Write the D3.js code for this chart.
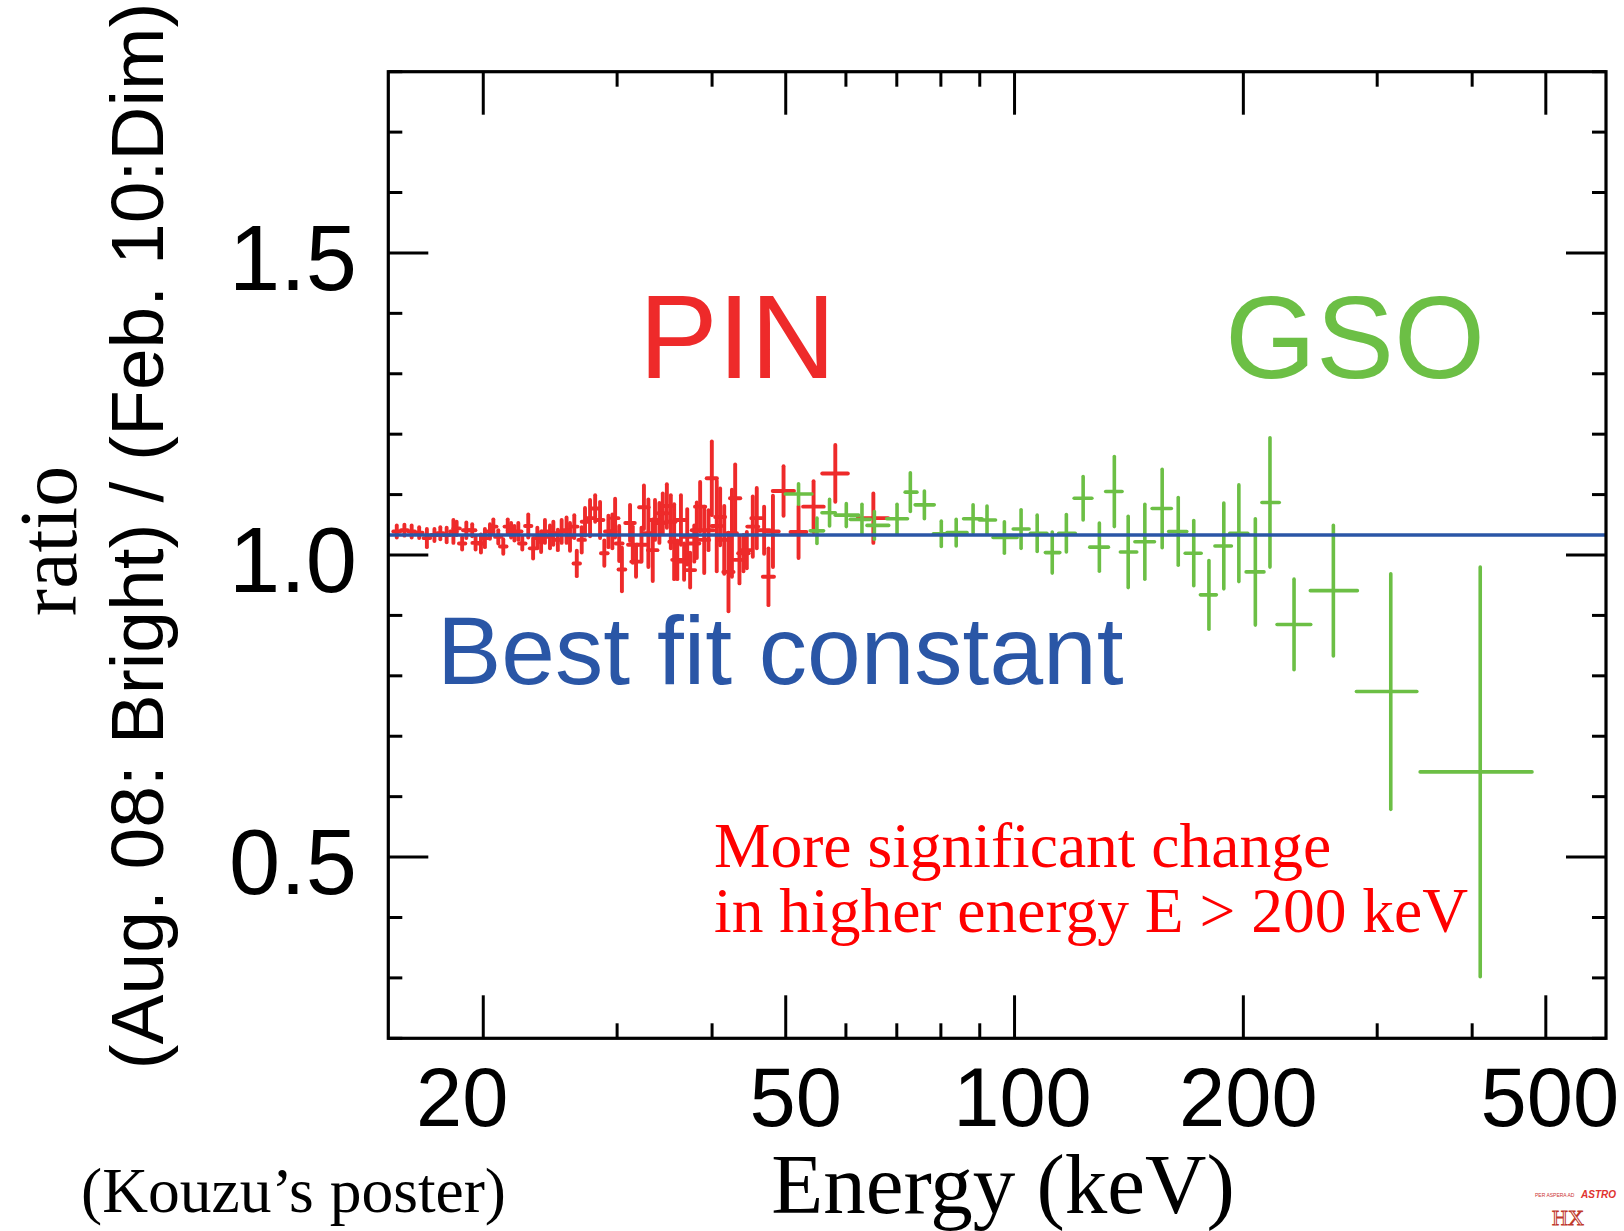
<!DOCTYPE html>
<html><head><meta charset="utf-8">
<script src="https://cdn.jsdelivr.net/npm/d3@7"></script>
<style>html,body{margin:0;padding:0;background:#fff;} svg{display:block}</style>
</head><body>
<script>
// ---------- DATA ----------
// PIN (red): energy centre (keV), ratio, 1-sigma error, bin half-width (keV)
const pinE = [15.39,15.75,16.10,16.47,16.86,17.25,17.56,17.90,18.27,18.45,18.76,19.00,19.34,19.54,19.86,20.10,20.41,20.62,20.93,21.25,21.54,21.76,21.98,22.24,22.51,22.92,23.26,23.56,23.83,24.11,24.48,24.73,25.07,25.36,25.74,26.01,26.35,26.55,26.95,27.22,27.64,28.07,28.49,28.86,29.22,29.57,29.82,30.19,30.44,31.20,31.46,31.77,32.30,32.54,32.98,33.42,33.65,34.10,34.45,34.88,35.30,35.66,36.00,36.40,36.75,37.10,37.43,37.90,38.19,38.58,39.06,39.57,39.97,40.57,40.99,41.50,42.04,42.48,42.90,43.46,43.99,44.44,45.25,45.80,46.83,47.45,48.10,49.67,51.98,54.40,58.10,65.20];
const pinR = [1.039,1.041,1.039,1.037,1.028,1.033,1.036,1.033,1.039,1.044,1.019,1.041,1.041,1.020,1.019,1.028,1.039,1.047,1.030,1.014,1.047,1.041,1.036,1.039,1.019,1.048,1.011,1.028,1.022,1.039,1.030,1.036,1.025,1.039,1.041,1.030,1.047,0.986,1.025,1.055,1.061,1.077,1.058,1.003,1.039,1.039,1.061,1.019,0.976,1.053,1.017,0.989,1.017,1.079,1.036,1.008,1.058,1.053,1.069,1.081,1.055,1.022,0.992,1.058,0.989,1.030,0.975,1.019,1.041,1.080,1.025,1.041,1.127,1.048,1.063,1.025,0.972,1.036,1.094,0.992,1.003,1.008,1.047,1.061,1.041,0.964,1.039,1.106,1.038,1.080,1.135,1.061];
const pinErr = [0.010,0.009,0.010,0.009,0.015,0.010,0.010,0.012,0.019,0.011,0.010,0.013,0.010,0.011,0.015,0.015,0.012,0.012,0.011,0.012,0.012,0.012,0.012,0.014,0.010,0.019,0.017,0.017,0.017,0.019,0.019,0.019,0.017,0.019,0.021,0.023,0.019,0.021,0.021,0.023,0.030,0.022,0.030,0.021,0.026,0.028,0.032,0.029,0.036,0.030,0.030,0.025,0.028,0.036,0.056,0.051,0.033,0.033,0.033,0.036,0.044,0.062,0.032,0.041,0.030,0.046,0.029,0.030,0.046,0.041,0.055,0.033,0.061,0.075,0.047,0.056,0.065,0.072,0.056,0.039,0.030,0.030,0.050,0.050,0.039,0.047,0.059,0.041,0.043,0.042,0.047,0.041];
const pinDE = [0.16,0.16,0.16,0.17,0.17,0.17,0.17,0.18,0.18,0.18,0.18,0.19,0.19,0.19,0.19,0.20,0.20,0.20,0.20,0.21,0.21,0.21,0.21,0.22,0.22,0.22,0.23,0.23,0.23,0.24,0.24,0.24,0.25,0.25,0.25,0.26,0.26,0.26,0.27,0.27,0.28,0.28,0.29,0.29,0.30,0.30,0.30,0.31,0.31,0.45,0.45,0.45,0.47,0.47,0.48,0.48,0.49,0.50,0.50,0.50,0.52,0.52,0.55,0.55,0.55,0.57,0.57,0.58,0.58,0.60,0.60,0.60,0.62,0.62,0.62,0.65,0.65,0.65,0.67,0.67,0.70,0.70,0.75,0.75,0.80,0.80,0.85,1.60,1.25,1.70,2.25,3.00];

// GSO (green): energy centre, bin low, bin high (keV), ratio, 1-sigma error
const gsoE  = [51.98,54.96,57.1,60.07,62.99,65.4,70.05,72.93,76.1,80.1,83.8,88.2,92.0,96.97,102.0,107.1,112.1,117.0,123.1,129.3,135.3,141.1,148.4,156.4,164.2,172.1,180.2,188.5,197.3,207.4,216.8,233.2,262.7,312.6,409.9];
const gsoLo = [49.93,53.85,55.8,58.1,60.8,63.96,67.9,71.8,74.0,78.2,81.5,85.7,89.9,93.7,99.6,104.9,109.8,114.3,119.8,125.6,131.8,137.8,144.0,151.7,159.5,167.7,175.6,183.5,191.9,201.7,211.6,221.5,245.0,281.7,341.7];
const gsoHi = [54.12,56.08,58.1,62.35,64.6,68.3,72.3,74.4,78.4,81.9,86.6,90.6,94.4,100.8,104.5,110.3,114.7,120.2,126.4,132.9,138.5,144.8,152.8,160.8,168.5,176.0,184.3,192.9,202.7,212.9,223.0,245.3,282.5,338.3,479.5];
const gsoR  = [1.101,1.040,1.070,1.066,1.059,1.049,1.060,1.104,1.083,1.035,1.037,1.060,1.058,1.029,1.043,1.036,1.004,1.036,1.094,1.013,1.105,1.005,1.022,1.077,1.039,1.003,0.934,1.015,1.036,0.972,1.087,0.885,0.941,0.774,0.641];
const gsoErr= [0.017,0.021,0.022,0.019,0.025,0.023,0.024,0.032,0.023,0.021,0.022,0.023,0.023,0.026,0.032,0.030,0.034,0.031,0.036,0.040,0.058,0.059,0.062,0.065,0.056,0.054,0.057,0.071,0.080,0.088,0.107,0.075,0.108,0.195,0.339];

const bestFit = 1.033;

const xDomain = [15, 600];
const yDomain = [0.2, 1.8];
const xMajorTicks = [20, 50, 100, 200, 500];
const xTickLabels = ["20", "50", "100", "200", "500"];
const xMinorTicks = [30, 40, 60, 70, 80, 90, 300, 400];
const yMajorTicks = [0.5, 1.0, 1.5];
const yTickLabels = ["0.5", "1.0", "1.5"];
const yMinorTicks = [0.2,0.3,0.4,0.6,0.7,0.8,0.9,1.1,1.2,1.3,1.4,1.6,1.7,1.8];

// ---------- LAYOUT ----------
const W = 1624, H = 1231;
const L = 388.3, R = 1606, T = 71.7, B = 1038.3;
const RED = "#ee2a2a", GREEN = "#6cbf45", BLUE = "#2a56a6";

const svg = d3.select("body").append("svg").attr("width", W).attr("height", H)
  .style("font-family", "'Liberation Sans', Arial, sans-serif");
svg.append("rect").attr("width", W).attr("height", H).attr("fill", "#fff");

const x = d3.scaleLog().domain(xDomain).range([L, R]);
const y = d3.scaleLinear().domain(yDomain).range([B, T]);

const plot = svg.append("g");

const pin = pinE.map((e, i) => ({e, r: pinR[i], err: pinErr[i], lo: e - pinDE[i], hi: e + pinDE[i]}));
const gso = gsoE.map((e, i) => ({e, r: gsoR[i], err: gsoErr[i], lo: gsoLo[i], hi: gsoHi[i]}));

function crosses(data, color, sw) {
  const g = plot.append("g").attr("stroke", color).attr("stroke-width", sw)
    .attr("stroke-linecap", "round").attr("fill", "none");
  g.selectAll("line.v").data(data).join("line").attr("class", "v")
    .attr("x1", d => x(d.e)).attr("x2", d => x(d.e))
    .attr("y1", d => y(d.r - d.err)).attr("y2", d => y(d.r + d.err));
  g.selectAll("line.h").data(data).join("line").attr("class", "h")
    .attr("x1", d => x(d.lo)).attr("x2", d => x(d.hi))
    .attr("y1", d => y(d.r)).attr("y2", d => y(d.r));
}
crosses(pin, RED, 3.9);
crosses(gso, GREEN, 3.6);

// best-fit constant
plot.append("line").attr("x1", L).attr("x2", R)
  .attr("y1", y(bestFit)).attr("y2", y(bestFit))
  .attr("stroke", BLUE).attr("stroke-width", 3.6);

// ---------- AXES ----------
const ax = svg.append("g").attr("stroke", "#000").attr("stroke-width", 3);
const majX = 43, minX = 15, majY = 40, minY = 14;
xMajorTicks.forEach(t => {
  ax.append("line").attr("x1", x(t)).attr("x2", x(t)).attr("y1", B).attr("y2", B - majX);
  ax.append("line").attr("x1", x(t)).attr("x2", x(t)).attr("y1", T).attr("y2", T + majX);
});
xMinorTicks.forEach(t => {
  ax.append("line").attr("x1", x(t)).attr("x2", x(t)).attr("y1", B).attr("y2", B - minX);
  ax.append("line").attr("x1", x(t)).attr("x2", x(t)).attr("y1", T).attr("y2", T + minX);
});
yMajorTicks.forEach(t => {
  ax.append("line").attr("x1", L).attr("x2", L + majY).attr("y1", y(t)).attr("y2", y(t));
  ax.append("line").attr("x1", R).attr("x2", R - majY).attr("y1", y(t)).attr("y2", y(t));
});
yMinorTicks.forEach(t => {
  ax.append("line").attr("x1", L).attr("x2", L + minY).attr("y1", y(t)).attr("y2", y(t));
  ax.append("line").attr("x1", R).attr("x2", R - minY).attr("y1", y(t)).attr("y2", y(t));
});
svg.append("rect").attr("x", L).attr("y", T).attr("width", R - L).attr("height", B - T)
  .attr("fill", "none").attr("stroke", "#000").attr("stroke-width", 3.2);

// tick labels
const xShift = {"20": -21, "50": 10, "100": 8, "200": 5, "500": 4};
svg.selectAll("text.xt").data(xMajorTicks).join("text").attr("class", "xt")
  .attr("x", (d, i) => x(d) + (xShift[xTickLabels[i]] || 0)).attr("y", 1126)
  .attr("text-anchor", "middle").attr("font-size", 83).attr("fill", "#000")
  .text((d, i) => xTickLabels[i]);
svg.selectAll("text.yt").data(yMajorTicks).join("text").attr("class", "yt")
  .attr("x", 357).attr("y", d => y(d) + 37)
  .attr("text-anchor", "end").attr("font-size", 92).attr("fill", "#000")
  .text((d, i) => yTickLabels[i]);

// axis titles
svg.append("text").attr("transform", "translate(76,541) rotate(-90)")
  .attr("text-anchor", "middle").attr("font-family", "'Liberation Serif', 'Times New Roman', serif")
  .attr("font-size", 82).attr("fill", "#000").text("ratio");
svg.append("text").attr("transform", "translate(163,536) rotate(-90)")
  .attr("text-anchor", "middle").attr("font-size", 75).attr("fill", "#000")
  .text("(Aug. 08: Bright) / (Feb. 10:Dim)");
svg.append("text").attr("x", 1003).attr("y", 1213).attr("text-anchor", "middle")
  .attr("font-family", "'Liberation Serif', 'Times New Roman', serif")
  .attr("font-size", 85).attr("fill", "#000").text("Energy (keV)");
svg.append("text").attr("x", 81).attr("y", 1212)
  .attr("font-family", "'Liberation Serif', 'Times New Roman', serif")
  .attr("font-size", 63.5).attr("fill", "#000").text("(Kouzu\u2019s poster)");

// annotations
svg.append("text").attr("x", 639).attr("y", 378).attr("font-size", 118).attr("fill", RED).text("PIN");
svg.append("text").attr("x", 1225).attr("y", 378).attr("font-size", 117).attr("fill", GREEN).text("GSO");
svg.append("text").attr("x", 437).attr("y", 684).attr("font-size", 96.5).attr("fill", BLUE).text("Best fit constant");
const note = svg.append("g").attr("font-family", "'Liberation Serif', 'Times New Roman', serif")
  .attr("font-size", 63.5).attr("fill", "#ff0000");
note.append("text").attr("x", 714).attr("y", 867).text("More significant change");
note.append("text").attr("x", 714).attr("y", 932).text("in higher energy E > 200 keV");

// small logo, bottom right
const logo = svg.append("g");
logo.append("text").attr("x", 1535).attr("y", 1197).attr("font-size", 5).attr("fill", "#c33").text("PER ASPERA AD");
logo.append("text").attr("x", 1581).attr("y", 1198).attr("font-size", 10).attr("font-weight", "bold")
  .attr("font-style", "italic").attr("fill", "#e0332f").text("ASTRO");
logo.append("text").attr("x", 1552).attr("y", 1225).attr("font-family", "'Liberation Serif', serif")
  .attr("font-size", 22).attr("fill", "none").attr("stroke", "#c0392b").attr("stroke-width", 1).text("HX");
</script>
</body></html>
